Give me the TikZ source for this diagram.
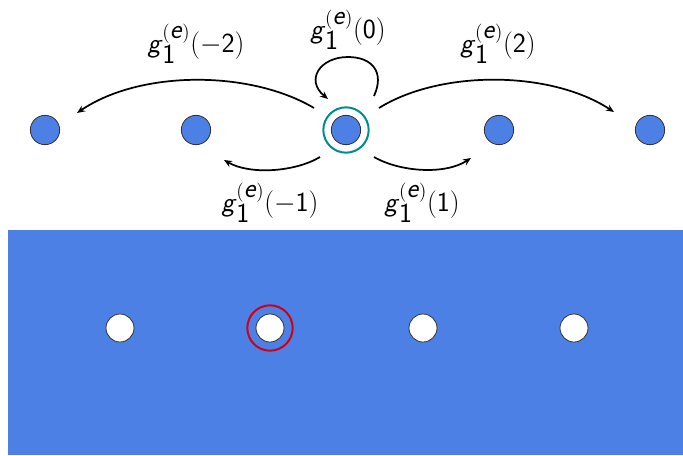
\documentclass[tikz,border=0pt]{standalone}
\usetikzlibrary{arrows.meta}
\definecolor{nodeblue}{RGB}{76,128,228}
\definecolor{ringteal}{RGB}{0,140,140}
\definecolor{ringred}{RGB}{210,0,20}
\newcommand{\glab}[1]{$\textsf{\textit{g}}_{\textsf{1}}^{(\textsf{\textit{e}})}(\textsf{#1})$}
\tikzset{
  dot/.style={circle,draw=black!80,fill=nodeblue,minimum size=22pt,inner sep=0pt,line width=0.6pt},
  wdot/.style={circle,draw=black!80,fill=white,minimum size=21pt,inner sep=0pt,line width=0.6pt},
  arr/.style={line width=1.3pt,-{Stealth[length=6pt,width=5pt]}},
  lab/.style={font=\sffamily\huge,inner sep=1pt}
}
\begin{document}
\begin{tikzpicture}[x=0.75pt,y=-0.75pt]
\useasboundingbox (0,0) rectangle (683,455);
\fill[nodeblue] (8,230) rectangle (683,455);
% top row
\node[dot] (a) at (45,130) {};
\node[dot] (b) at (196,130) {};
\node[dot] (c) at (346,130) {};
\node[dot] (d) at (499,130) {};
\node[dot] (e) at (650,130) {};
\node[circle,draw=ringteal,line width=1.5pt,minimum size=34pt,inner sep=0pt] (cr) at (346,130) {};
% bottom row
\node[wdot] (p) at (120,328) {};
\node[wdot] (q) at (270,328) {};
\node[wdot] (r) at (423,328) {};
\node[wdot] (s) at (574,328) {};
\node[circle,draw=ringred,line width=1.5pt,minimum size=34pt,inner sep=0pt] (qr) at (270,328) {};
% arrows
\coordinate (c1) at (314,108);
\coordinate (c2) at (379,108);
\coordinate (c3) at (320,157);
\coordinate (c4) at (374,157);
\coordinate (lA) at (77,113);
\coordinate (rA) at (614,112);
\coordinate (lB) at (224,160);
\coordinate (rB) at (471,158);
\draw[arr] (c1) .. controls (250,70) and (140,70) .. (lA);
\draw[arr] (c2) .. controls (440,70) and (550,70) .. (rA);
\draw[arr] (c3) .. controls (295,172) and (250,175) .. (lB);
\draw[arr] (c4) .. controls (400,172) and (445,175) .. (rB);
\coordinate (l1) at (374,96);
\coordinate (l2) at (328,99);
\draw[arr] (l1) .. controls (385,72) and (372,57) .. (348,57) .. controls (320,57) and (305,80) .. (l2);
% labels
\node[lab] (t1) at (196,44) {\glab{$-$2}};
\node[lab] (t2) at (348,30) {\glab{0}};
\node[lab] (t3) at (498,44) {\glab{2}};
\node[lab] (t4) at (270,203) {\glab{$-$1}};
\node[lab] (t5) at (422,203) {\glab{1}};
\end{tikzpicture}
\end{document}
